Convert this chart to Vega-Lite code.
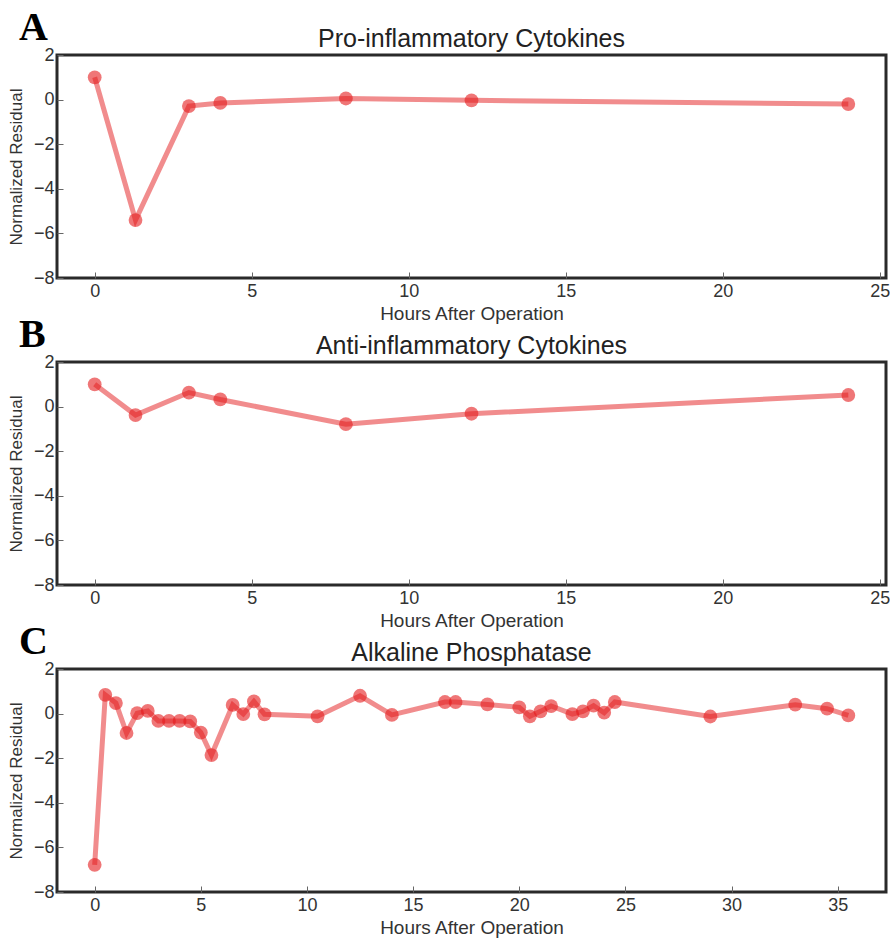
{
  "$schema": "https://vega.github.io/schema/vega-lite/v6.json",
  "background": "white",
  "padding": {"left": 5, "top": 7, "right": 0, "bottom": 0},
  "datasets": {
    "pro": [
      {"hours": 0, "residual": 1.0},
      {"hours": 1.3, "residual": -5.4},
      {"hours": 3, "residual": -0.29},
      {"hours": 4, "residual": -0.15},
      {"hours": 8, "residual": 0.05},
      {"hours": 12, "residual": -0.03},
      {"hours": 24, "residual": -0.2}
    ],
    "anti": [
      {"hours": 0, "residual": 1.0},
      {"hours": 1.3, "residual": -0.38},
      {"hours": 3, "residual": 0.63},
      {"hours": 4, "residual": 0.32},
      {"hours": 8, "residual": -0.79},
      {"hours": 12, "residual": -0.32},
      {"hours": 24, "residual": 0.52}
    ],
    "alp": [
      {"hours": 0, "residual": -6.78},
      {"hours": 0.5, "residual": 0.84},
      {"hours": 1.0, "residual": 0.47},
      {"hours": 1.5, "residual": -0.87},
      {"hours": 2.0, "residual": 0.02},
      {"hours": 2.5, "residual": 0.12},
      {"hours": 3.0, "residual": -0.33},
      {"hours": 3.5, "residual": -0.33},
      {"hours": 4.0, "residual": -0.33},
      {"hours": 4.5, "residual": -0.35},
      {"hours": 5.0, "residual": -0.85},
      {"hours": 5.5, "residual": -1.86},
      {"hours": 6.5, "residual": 0.39},
      {"hours": 7.0, "residual": -0.02},
      {"hours": 7.5, "residual": 0.55},
      {"hours": 8.0, "residual": -0.03},
      {"hours": 10.5, "residual": -0.12},
      {"hours": 12.5, "residual": 0.8},
      {"hours": 14.0, "residual": -0.06},
      {"hours": 16.5, "residual": 0.52},
      {"hours": 17.0, "residual": 0.52},
      {"hours": 18.5, "residual": 0.41},
      {"hours": 20.0, "residual": 0.28},
      {"hours": 20.5, "residual": -0.12},
      {"hours": 21.0, "residual": 0.1},
      {"hours": 21.5, "residual": 0.34},
      {"hours": 22.5, "residual": -0.02},
      {"hours": 23.0, "residual": 0.1},
      {"hours": 23.5, "residual": 0.36},
      {"hours": 24.0, "residual": 0.04},
      {"hours": 24.5, "residual": 0.52},
      {"hours": 29.0, "residual": -0.13},
      {"hours": 33.0, "residual": 0.4},
      {"hours": 34.5, "residual": 0.22},
      {"hours": 35.5, "residual": -0.08}
    ]
  },
  "spacing": -11,
  "vconcat": [
    {
      "title": {"text": "A", "anchor": "start", "frame": "bounds", "offset": -16, "dx": 13, "dy": 38, "baseline": "alphabetic", "font": "Liberation Serif", "fontSize": 40, "fontWeight": "bold", "color": "#000"},
      "vconcat": [
        {
          "width": 829, "height": 223,
          "title": {"text": "Pro-inflammatory Cytokines"},
          "data": {"name": "pro"},
          "encoding": {
            "x": {"field": "hours", "type": "quantitative", "scale": {"domain": [-1.2, 25.2], "nice": false, "zero": false}, "axis": {"values": [0, 5, 10, 15, 20, 25], "title": "Hours After Operation"}},
            "y": {"field": "residual", "type": "quantitative", "scale": {"domain": [-8, 2], "nice": false}, "axis": {"values": [-8, -6, -4, -2, 0, 2], "title": "Normalized Residual"}}
          },
          "layer": [
            {"mark": {"type": "line", "color": "#e41a1c", "opacity": 0.5, "strokeWidth": 5}},
            {"mark": {"type": "circle", "color": "#e41a1c", "opacity": 0.6, "size": 190}}
          ]
        }
      ]
    },
    {
      "title": {"text": "B", "anchor": "start", "frame": "bounds", "offset": -16, "dx": 13, "dy": 38, "baseline": "alphabetic", "font": "Liberation Serif", "fontSize": 40, "fontWeight": "bold", "color": "#000"},
      "vconcat": [
        {
          "width": 829, "height": 223,
          "title": {"text": "Anti-inflammatory Cytokines"},
          "data": {"name": "anti"},
          "encoding": {
            "x": {"field": "hours", "type": "quantitative", "scale": {"domain": [-1.2, 25.2], "nice": false, "zero": false}, "axis": {"values": [0, 5, 10, 15, 20, 25], "title": "Hours After Operation"}},
            "y": {"field": "residual", "type": "quantitative", "scale": {"domain": [-8, 2], "nice": false}, "axis": {"values": [-8, -6, -4, -2, 0, 2], "title": "Normalized Residual"}}
          },
          "layer": [
            {"mark": {"type": "line", "color": "#e41a1c", "opacity": 0.5, "strokeWidth": 5}},
            {"mark": {"type": "circle", "color": "#e41a1c", "opacity": 0.6, "size": 190}}
          ]
        }
      ]
    },
    {
      "title": {"text": "C", "anchor": "start", "frame": "bounds", "offset": -16, "dx": 13, "dy": 38, "baseline": "alphabetic", "font": "Liberation Serif", "fontSize": 40, "fontWeight": "bold", "color": "#000"},
      "vconcat": [
        {
          "width": 829, "height": 223,
          "title": {"text": "Alkaline Phosphatase"},
          "data": {"name": "alp"},
          "encoding": {
            "x": {"field": "hours", "type": "quantitative", "scale": {"domain": [-1.775, 37.275], "nice": false, "zero": false}, "axis": {"values": [0, 5, 10, 15, 20, 25, 30, 35], "title": "Hours After Operation"}},
            "y": {"field": "residual", "type": "quantitative", "scale": {"domain": [-8, 2], "nice": false}, "axis": {"values": [-8, -6, -4, -2, 0, 2], "title": "Normalized Residual"}}
          },
          "layer": [
            {"mark": {"type": "line", "color": "#e41a1c", "opacity": 0.5, "strokeWidth": 5}},
            {"mark": {"type": "circle", "color": "#e41a1c", "opacity": 0.6, "size": 190}}
          ]
        }
      ]
    }
  ],
  "config": {
    "view": {"stroke": "#2a2a2a", "strokeWidth": 3},
    "axis": {
      "domain": false, "grid": false,
      "ticks": true, "tickSize": -6, "tickColor": "#666", "tickWidth": 1,
      "labelFont": "Liberation Sans", "labelFontSize": 18, "labelColor": "#333",
      "labelFlush": false, "labelOverlap": false,
      "titleFont": "Liberation Sans", "titleFontWeight": "normal", "titleColor": "#333"
    },
    "axisY": {"titlePadding": 8, "labelPadding": 9, "titleFontSize": 17},
    "axisX": {"titlePadding": 4, "labelPadding": 10, "titleFontSize": 19},
    "title": {
      "font": "Liberation Sans", "fontSize": 25, "fontWeight": "normal", "color": "#222", "offset": -6
    }
  }
}
